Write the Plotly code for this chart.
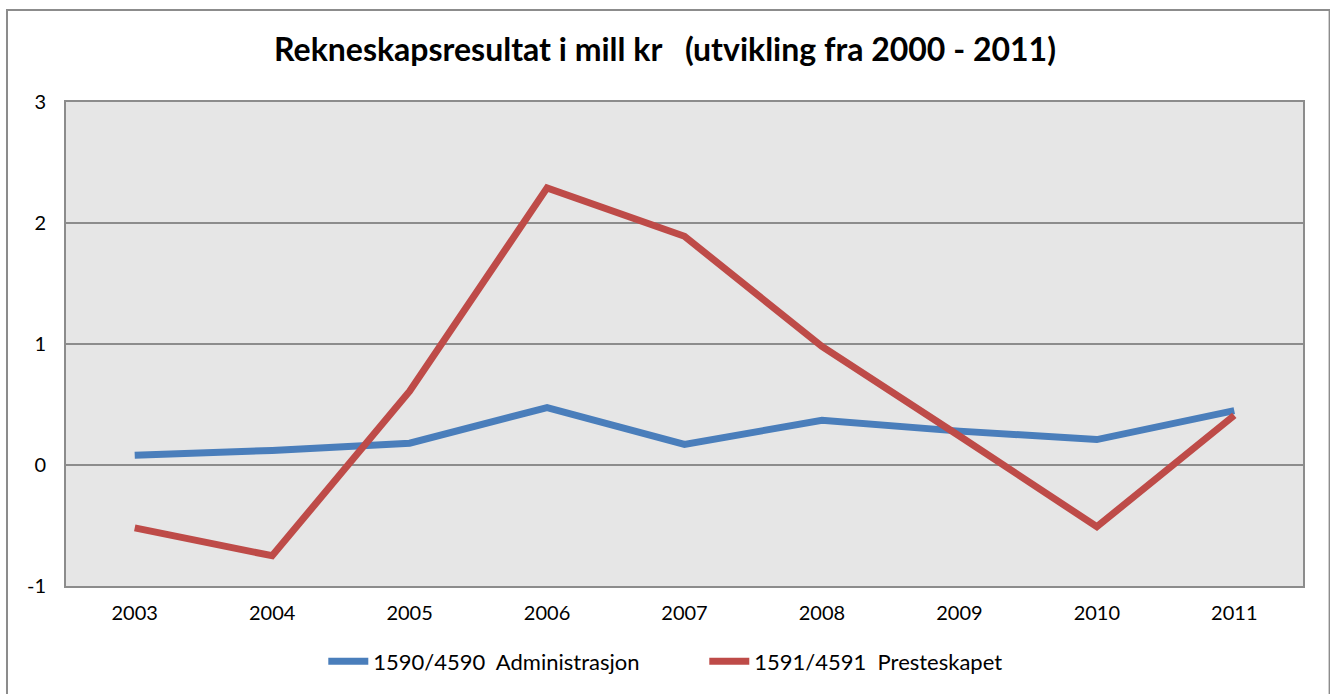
import plotly.graph_objects as go

years = ["2003", "2004", "2005", "2006", "2007", "2008", "2009", "2010", "2011"]
administrasjon = [0.08, 0.12, 0.18, 0.475, 0.17, 0.37, 0.28, 0.21, 0.45]
presteskapet = [-0.52, -0.75, 0.61, 2.29, 1.89, 0.98, 0.24, -0.51, 0.41]
y_ticks = [-1, 0, 1, 2, 3]
y_labels = ["-1", "0", "1", "2", "3"]

fig = go.Figure()
fig.add_trace(go.Scatter(x=years, y=administrasjon, mode="lines",
                         name="1590/4590  Administrasjon",
                         line=dict(color="#4a7ebb", width=7)))
fig.add_trace(go.Scatter(x=years, y=presteskapet, mode="lines",
                         name="1591/4591  Presteskapet",
                         line=dict(color="#be4b48", width=7)))

# grey frame round the whole chart, like the Excel chart area
fig.add_shape(type="rect", xref="paper", yref="paper",
              x0=-0.0477, x1=1.0215, y0=-0.25, y1=1.19,
              line=dict(color="#8c8c8c", width=2), layer="below")

fig.update_layout(
    width=1330, height=694,
    margin=dict(l=66, r=27, t=102, b=104),
    paper_bgcolor="white", plot_bgcolor="#e6e6e6",
    font=dict(family="Lato, Open Sans, sans-serif", size=20, color="black"),
    title=dict(text="<b>Rekneskapsresultat i mill kr   (utvikling fra 2000 - 2011)</b>",
               x=0.5, xanchor="center", y=0.928, yanchor="middle",
               font=dict(size=32)),
    showlegend=True,
    legend=dict(orientation="h", x=0.208, xanchor="left", y=-0.156, yanchor="middle",
                font=dict(size=22), itemwidth=40, entrywidth=326,
                traceorder="normal"),
)
fig.update_xaxes(type="category", range=[-0.5, 8.5], showgrid=False,
                 showline=True, linecolor="#8c8c8c", linewidth=2, mirror=True,
                 ticks="", ticklabelstandoff=8)
fig.update_yaxes(range=[-1, 3], tickvals=y_ticks, ticktext=y_labels,
                 showgrid=True, gridcolor="#8c8c8c", gridwidth=2, zeroline=False,
                 showline=True, linecolor="#8c8c8c", linewidth=2, mirror=True,
                 ticks="", ticklabelstandoff=14)

# drop the default body margin so the figure fills the window exactly
fig.write_html("out.html", config={"displayModeBar": False},
               post_script="document.body.style.margin='0';")
